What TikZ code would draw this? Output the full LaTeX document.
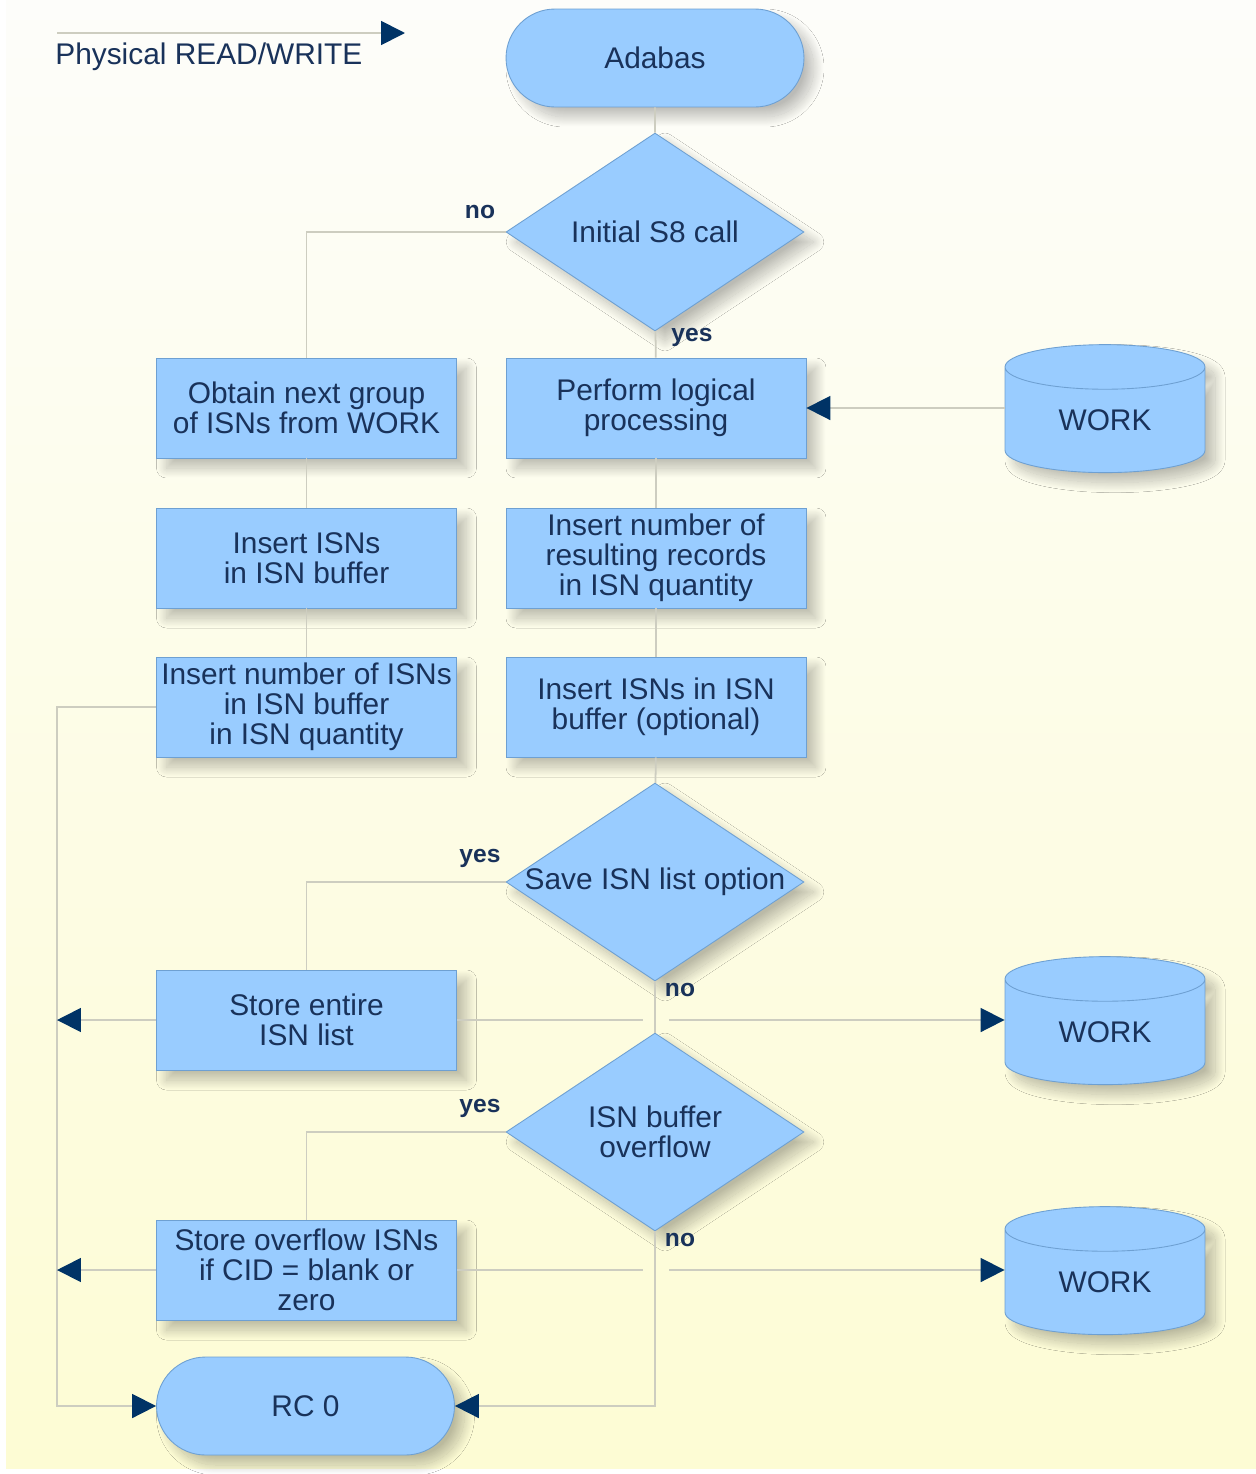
\documentclass[tikz,border=0pt]{standalone}
\usepackage{fontspec}
\setmainfont{Liberation Sans}
\usepackage{xcolor}
\definecolor{adblue}{RGB}{153,204,255}
\definecolor{adedge}{RGB}{110,160,210}
\definecolor{adnavy}{RGB}{0,51,102}
\definecolor{adtext}{RGB}{25,50,90}
\definecolor{adline}{RGB}{205,205,192}
\definecolor{adtop}{RGB}{253,253,250}
\definecolor{adbottom}{RGB}{253,252,212}
\usepackage{tikz}
\usetikzlibrary{arrows.meta, positioning, shapes.geometric, shapes.misc, shadows.blur}

\tikzset{
  shapebase/.style={fill=adblue, draw=adedge, line width=0.5pt, text=adtext,
    font=\fontsize{17}{17}\selectfont, align=center, inner sep=0pt,
    blur shadow={shadow xshift=0.2cm, shadow yshift=-0.2cm,
      shadow blur radius=0.2cm, shadow blur steps=30, shadow opacity=26}},
  procbox/.style={shapebase, rectangle, minimum width=6cm, minimum height=2cm},
  terminal/.style={shapebase, rounded rectangle, minimum width=5.96cm, minimum height=1.96cm},
  decision/.style={shapebase, diamond, minimum width=5.96cm, minimum height=3.96cm},
  dectext/.style={text=adtext, font=\fontsize{17}{17}\selectfont, align=center, inner sep=0pt},
  workfile/.style={shapebase, cylinder, shape border rotate=90, aspect=0.48,
    minimum width=4cm, minimum height=2.56cm},
  flow/.style={draw=adline, line width=1pt},
  flowarrow/.style={flow, -{Triangle[length=0.48cm, width=0.48cm, color=adnavy]}},
  answer/.style={text=adtext, font=\fontsize{14}{14}\bfseries},
}

\begin{document}
\begin{tikzpicture}[x=0.02cm, y=-0.02cm]
  % Page and background
  \useasboundingbox (0,0) rectangle (1256,1474);
  \fill[white] (0,0) rectangle (1256,1474);
  \shade[top color=adtop, bottom color=adbottom] (6,0) rectangle (1256,1468);

  % Legend
  \coordinate (legA) at (57,33);
  \coordinate (legB) at (405,33);
  \draw[flowarrow] (legA) -- (legB);
  \node[dectext, anchor=west] (legtxt) at (55,57) {Physical READ/WRITE};

  % --- Main column ---
  \node[terminal] (adabas) at (655,58) {Adabas};
  \node[decision] (s8) at (655,232) {};
  \node[dectext] (s8txt) at (s8) {Initial S8 call};
  \node[procbox] (logic) at (656,408) {Perform logical\\processing};
  \node[procbox] (insres) at (656,558) {Insert number of\\resulting records\\in ISN quantity};
  \node[procbox] (insopt) at (656,707) {Insert ISNs in ISN\\buffer (optional)};
  \node[decision] (save) at (655,882) {};
  \node[dectext] (savetxt) at (save) {Save ISN list option};
  \node[decision] (ovf) at (655,1132) {};
  \node[dectext] (ovftxt) at (ovf) {ISN buffer\\overflow};

  % --- Left column ---
  \node[procbox] (obtain) at (306.5,408) {Obtain next group\\of ISNs from WORK};
  \node[procbox] (insisn) at (306.5,558) {Insert ISNs\\in ISN buffer};
  \node[procbox] (insnum) at (306.5,707) {Insert number of ISNs\\in ISN buffer\\in ISN quantity};
  \node[procbox] (store) at (306.5,1020) {Store entire\\ISN list};
  \node[procbox] (storeov) at (306.5,1270) {Store overflow ISNs\\if CID = blank or\\zero};
  \node[terminal] (rc0) at (305.5,1406) {RC 0};

  % --- WORK files ---
  \node[workfile] (wk1) at (1105,420) {WORK};
  \node[workfile] (wk2) at (1105,1032) {WORK};
  \node[workfile] (wk3) at (1105,1282) {WORK};

  % Answers
  \node[answer] (no1) at (480,212) {no};
  \node[answer] (yes1) at (692,337) {yes};
  \node[answer] (yes2) at (480,858) {yes};
  \node[answer] (no2) at (680,990) {no};
  \node[answer] (yes3) at (480,1108) {yes};
  \node[answer] (no3) at (680,1240) {no};

  % Connectors
  \draw[flow] (adabas) -- (s8);
  \draw[flow] (s8) -- (logic);
  \draw[flow] (s8.west) -| (obtain.north);
  \draw[flowarrow] (wk1.west |- logic.east) -- (logic.east);
  \draw[flow] (obtain) -- (insisn);
  \draw[flow] (insisn) -- (insnum);
  \draw[flow] (logic) -- (insres);
  \draw[flow] (insres) -- (insopt);
  \draw[flow] (insopt) -- (save);
  \draw[flow] (save.west) -| (store.north);
  \draw[flow] (save) -- (ovf);
  \draw[flow] (ovf.west) -| (storeov.north);
  \draw[flowarrow] (ovf.south) |- (rc0.east);

  % Left rail
  \coordinate (lrail) at (57,707);
  \draw[flowarrow] (insnum.west) -- (lrail) |- (rc0.west);
  \draw[flowarrow] (store.west) -- (store.west -| lrail);
  \draw[flowarrow] (storeov.west) -- (storeov.west -| lrail);

  % Writes to WORK, with gaps at the crossing
  \coordinate (gap2a) at (643,1020);
  \coordinate (gap2b) at (669,1020);
  \draw[flow] (store.east) -- (gap2a);
  \draw[flowarrow] (gap2b) -- (gap2b -| wk2.west);
  \coordinate (gap3a) at (643,1270);
  \coordinate (gap3b) at (669,1270);
  \draw[flow] (storeov.east) -- (gap3a);
  \draw[flowarrow] (gap3b) -- (gap3b -| wk3.west);
\end{tikzpicture}
\end{document}
